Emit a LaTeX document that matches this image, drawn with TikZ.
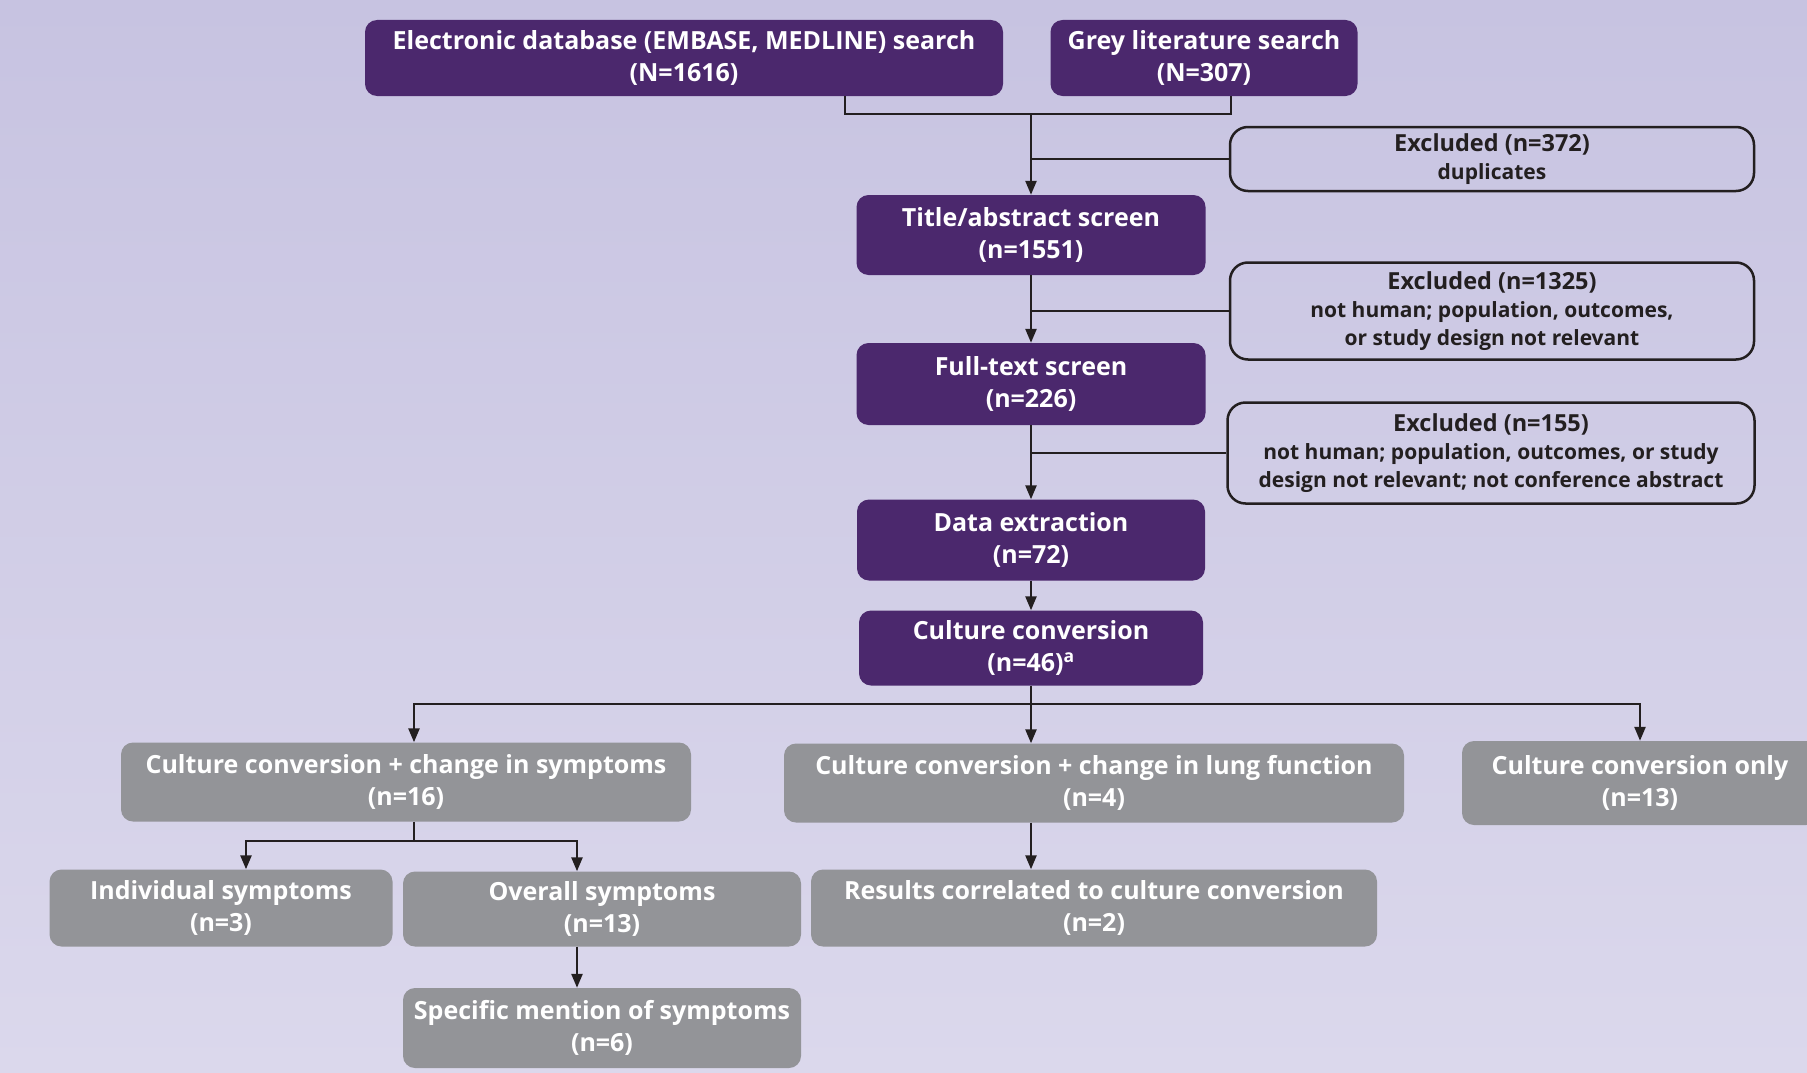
\documentclass[tikz,border=0pt]{standalone}
\usepackage{fontspec}
\setmainfont{Open Sans}
\usetikzlibrary{arrows.meta,positioning}
\definecolor{bgtop}{HTML}{C7C3E1}
\definecolor{bgbot}{HTML}{DBD8EC}
\definecolor{darkpurple}{HTML}{4B286D}
\definecolor{boxgrey}{HTML}{939498}
\definecolor{inkline}{HTML}{231F20}
\newcommand{\exclnote}[1]{{\fontsize{21}{26}\selectfont #1}}

\begin{document}
\begin{tikzpicture}[x=1pt,y=-1pt,
    mainstep/.style={rectangle, rounded corners=12pt, fill=darkpurple, text=white,
      font=\bfseries\fontsize{25}{32}\selectfont, align=center, inner sep=0pt},
    subgroup/.style={mainstep, fill=boxgrey},
    exclbox/.style={rectangle, rounded corners=18pt, draw=inkline, line width=2.5pt,
      text=inkline, font=\bfseries\fontsize{23.5}{28}\selectfont, align=center, inner sep=0pt},
    link/.style={draw=inkline, line width=2.5pt},
    arr/.style={link, -{Triangle[length=14pt,width=11pt]}}]
  % background
  \fill[top color=bgtop, bottom color=bgbot] (0,0) rectangle (1807,1073);
  \useasboundingbox (0,0) rectangle (1807,1073);
  % Searches
  \node[mainstep, minimum width=638pt, minimum height=76pt] (elec) at (684,58)
    {Electronic database (EMBASE, MEDLINE) search\\(N=1616)};
  \node[mainstep, minimum width=307pt, minimum height=76pt] (grey) at (1204,58)
    {Grey literature search\\(N=307)};
  % Screening
  \node[mainstep, minimum width=349pt, minimum height=80pt] (title) at (1031,235)
    {Title/abstract screen\\(n=1551)};
  \node[mainstep, minimum width=349pt, minimum height=82pt] (full) at (1031,384)
    {Full-text screen\\(n=226)};
  \node[mainstep, minimum width=348pt, minimum height=81pt] (data) at (1031,540)
    {Data extraction\\(n=72)};
  \node[mainstep, minimum width=344pt, minimum height=75pt] (cc) at (1031,648)
    {Culture conversion\\(n=46)\textsuperscript{a}};
  % Exclusions
  \node[exclbox, minimum width=524pt, minimum height=64pt] (excla) at (1492,159)
    {Excluded (n=372)\\\exclnote{duplicates}};
  \node[exclbox, minimum width=524pt, minimum height=97pt] (exclb) at (1492,311)
    {Excluded (n=1325)\\\exclnote{not human; population, outcomes,}\\\exclnote{or study design not relevant}};
  \node[exclbox, minimum width=527pt, minimum height=101pt] (exclc) at (1491,453)
    {Excluded (n=155)\\\exclnote{not human; population, outcomes, or study}\\\exclnote{design not relevant; not conference abstract}};
  % Outcome groups
  \node[subgroup, minimum width=570pt, minimum height=79pt] (sym) at (406,782)
    {Culture conversion + change in symptoms\\(n=16)};
  \node[subgroup, minimum width=620pt, minimum height=79pt] (lung) at (1094,783)
    {Culture conversion + change in lung function\\(n=4)};
  \node[subgroup, minimum width=356pt, minimum height=84pt] (only) at (1640,783)
    {Culture conversion only\\(n=13)};
  \node[subgroup, minimum width=343pt, minimum height=77pt] (indiv) at (221,908)
    {Individual symptoms\\(n=3)};
  \node[subgroup, minimum width=398pt, minimum height=75pt] (overall) at (602,909)
    {Overall symptoms\\(n=13)};
  \node[subgroup, minimum width=398pt, minimum height=80pt] (specific) at (602,1028)
    {Specific mention of symptoms\\(n=6)};
  \node[subgroup, minimum width=566pt, minimum height=77pt] (results) at (1094,908)
    {Results correlated to culture conversion\\(n=2)};
  % Connectors
  \coordinate (merge) at (1031,114);
  \coordinate (split) at (1031,704);
  \coordinate (symsplit) at (414,841);
  \path[link] ([xshift=161pt]elec.south) |- (merge) -| ([xshift=27pt]grey.south);
  \draw[arr] (merge) -- (title.north);
  \draw[arr] (title) -- (full);
  \draw[arr] (full) -- (data);
  \draw[arr] (data) -- (cc);
  \foreach \e/\s in {excla/title, exclb/title, exclc/full}
    \path[link] (\e.west) -- (\e.west -| \s.south);
  \path[link] (cc.south) -- (split);
  \draw[arr] (split) -| (sym.north -| symsplit);
  \draw[arr] (split) -- (split |- lung.north);
  \draw[arr] (split) -| (only.north);
  \draw[arr] (split |- lung.south) -- (split |- results.north);
  \path[link] (symsplit |- sym.south) -- (symsplit);
  \draw[arr] (symsplit) -| ([xshift=25pt]indiv.north);
  \draw[arr] (symsplit) -| ([xshift=-25pt]overall.north);
  \draw[arr] ([xshift=-25pt]overall.south) -- ([xshift=-25pt]specific.north);
\end{tikzpicture}
\end{document}
